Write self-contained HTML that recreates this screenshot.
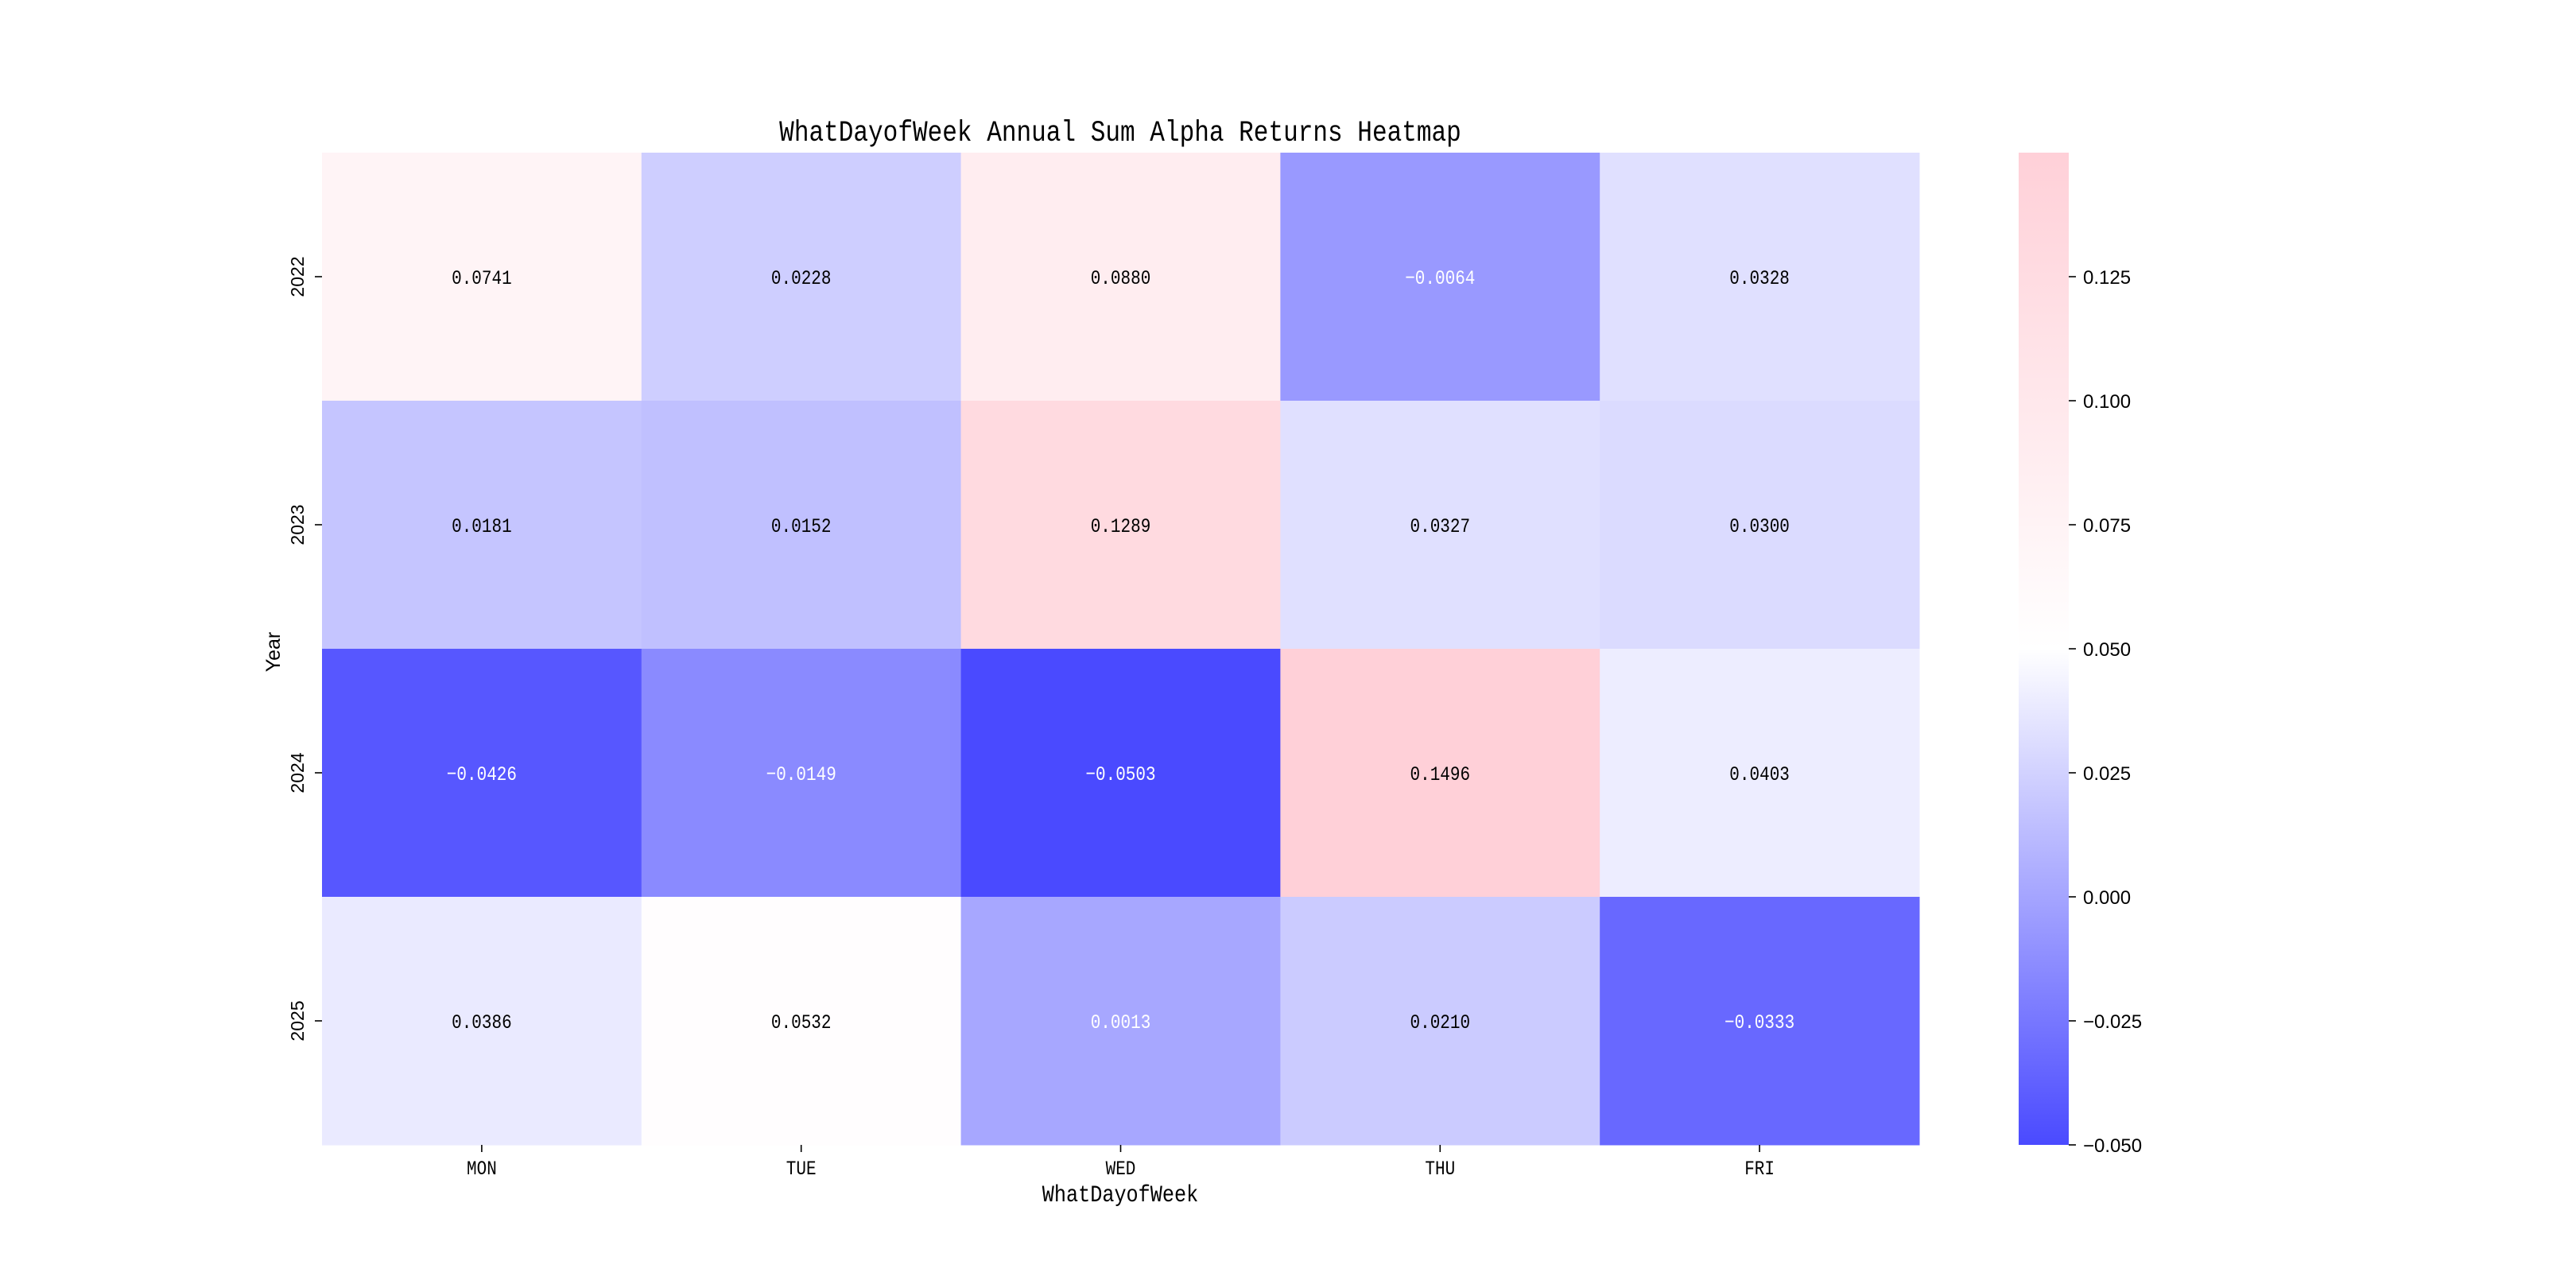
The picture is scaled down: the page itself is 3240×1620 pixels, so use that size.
<!DOCTYPE html>
<html><head><meta charset="utf-8"><style>
html,body{margin:0;padding:0;background:#fff;}
svg{display:block;}
.mono{font-family:"Liberation Mono","DejaVu Sans Mono",monospace;}
.sans{font-family:"Liberation Sans","DejaVu Sans",sans-serif;}
</style></head><body>
<svg id="chart" width="3240" height="1620" viewBox="0 0 3240 1620" xmlns="http://www.w3.org/2000/svg">
<defs>
<linearGradient id="cbgrad" x1="0" y1="1" x2="0" y2="0">
<stop offset="0" stop-color="rgb(74,74,255)"/>
<stop offset="0.5" stop-color="rgb(255,255,255)"/>
<stop offset="1" stop-color="rgb(255,208,216)"/>
</linearGradient>
</defs>
<text transform="translate(1409,177) scale(0.84,1)" text-anchor="middle" font-size="37" class="mono">WhatDayofWeek Annual Sum Alpha Returns Heatmap</text>
<g id="cells"></g>
<g id="xticks"></g>
<g id="yticks"></g>
<text transform="translate(1409,1511) scale(0.84,1)" text-anchor="middle" font-size="30" class="mono">WhatDayofWeek</text>
<text transform="translate(352,820) rotate(-90)" text-anchor="middle" font-size="25" class="sans">Year</text>
<rect x="2539" y="192" width="63" height="1248" fill="url(#cbgrad)"/>
<g id="cbticks"></g>
</svg>
<script>
const days = ["MON","TUE","WED","THU","FRI"];
const years = ["2022","2023","2024","2025"];
const row2022 = [0.0741, 0.0228, 0.0880, -0.0064, 0.0328];
const row2023 = [0.0181, 0.0152, 0.1289, 0.0327, 0.0300];
const row2024 = [-0.0426, -0.0149, -0.0503, 0.1496, 0.0403];
const row2025 = [0.0386, 0.0532, 0.0013, 0.0210, -0.0333];
const cbTicks = [-0.050, -0.025, 0.000, 0.025, 0.050, 0.075, 0.100, 0.125];
const vmin = -0.05, vcenter = 0.05, vmax = 0.15;

const NS = "http://www.w3.org/2000/svg";
const L = 405, R = 2414, T = 192, B = 1440;
const rows = [row2022, row2023, row2024, row2025];
const cw = (R - L) / days.length, ch = (B - T) / years.length;
const xPos = i => L + i * cw;
const yPos = j => T + j * ch;
const cbY = v => B - (v - vmin) / (vmax - vmin) * (B - T);

function color(v) {
  const lo = [74,74,255], mid = [255,255,255], hi = [255,208,216];
  let a, b, t;
  if (v <= vcenter) { a = lo; b = mid; t = (v - vmin) / (vcenter - vmin); }
  else { a = mid; b = hi; t = (v - vcenter) / (vmax - vcenter); }
  t = Math.max(0, Math.min(1, t));
  return a.map((c, k) => Math.round(c + (b[k] - c) * t));
}
function lum(c) {
  const f = x => { x /= 255; return x <= 0.03928 ? x / 12.92 : Math.pow((x + 0.055) / 1.055, 2.4); };
  return 0.2126 * f(c[0]) + 0.7152 * f(c[1]) + 0.0722 * f(c[2]);
}
function mk(tag, attrs, parent) {
  const e = document.createElementNS(NS, tag);
  for (const k in attrs) e.setAttribute(k, attrs[k]);
  parent.appendChild(e);
  return e;
}
const cells = document.getElementById('cells');
rows.forEach((row, j) => {
  row.forEach((v, i) => {
    const c = color(v);
    const r = mk('rect', {x: xPos(i), y: yPos(j), width: cw + 0.5, height: ch + 0.5, fill: `rgb(${c.join(',')})`}, cells);
    
    
    const t = mk('text', {transform: `translate(${xPos(i) + cw / 2},${yPos(j) + ch / 2 + 9}) scale(0.84,1)`, 'text-anchor': 'middle', 'font-size': '25', class: 'mono', fill: lum(c) < 0.45 ? '#fff' : '#000'}, cells);
    t.textContent = v.toFixed(4).replace('-', '\u2212');
    
    
  });
});
const xt = document.getElementById('xticks');
days.forEach((d, i) => {
  const x = xPos(i) + cw / 2;
  mk('line', {x1: x, x2: x, y1: B, y2: B + 9, stroke: '#000', 'stroke-width': 1.6}, xt);
  const t = mk('text', {transform: `translate(${x},${B + 37}) scale(0.84,1)`, 'text-anchor': 'middle', 'font-size': '25', class: 'mono'}, xt);
  t.textContent = d;
  
  
});
const yt = document.getElementById('yticks');
years.forEach((y, j) => {
  const yy = yPos(j) + ch / 2;
  mk('line', {x1: L - 9, x2: L, y1: yy, y2: yy, stroke: '#000', 'stroke-width': 1.6}, yt);
  const t = mk('text', {transform: `translate(382,${yy}) rotate(-90)`, 'text-anchor': 'middle', 'font-size': '23', class: 'sans'}, yt);
  t.textContent = y;
  
  
});
const cbt = document.getElementById('cbticks');
cbTicks.forEach(v => {
  const yy = cbY(v);
  mk('line', {x1: 2602, x2: 2611, y1: yy, y2: yy, stroke: '#000', 'stroke-width': 1.6}, cbt);
  const t = mk('text', {x: 2620, y: yy + 9, 'font-size': '24', class: 'sans'}, cbt);
  t.textContent = v.toFixed(3).replace('-', '\u2212');
  
  
});
</script>
</body></html>
